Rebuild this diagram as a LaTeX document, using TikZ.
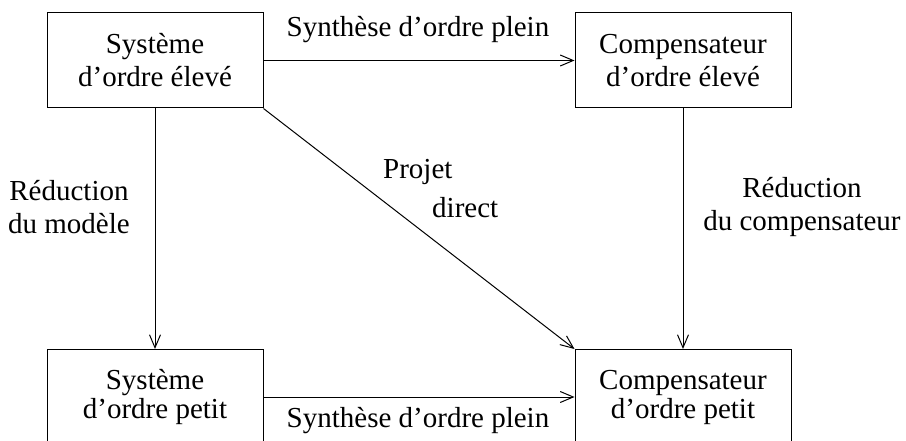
\documentclass[tikz,border=0pt]{standalone}
\usepackage{fontspec}
\setmainfont{Liberation Serif}
\usetikzlibrary{arrows.meta}
\begin{document}
\begin{tikzpicture}[x=1pt,y=-1pt,
  every node/.style={font=\fontsize{29}{33}\selectfont, inner sep=0pt},
  blockbox/.style={draw, line width=1pt, minimum width=216pt, minimum height=95pt, align=center},
  lbl/.style={align=center},
  conn/.style={line width=1pt, -{Straight Barb[length=13pt,width=11pt,line width=1pt]}}]
\useasboundingbox (0,0) rectangle (906,441);
\node[blockbox] (tl) at (155,60.5) {Système\\d’ordre élevé};
\node[blockbox] (tr) at (683,60.5) {Compensateur\\ d’ordre élevé};
\node[blockbox] (bl) at (155,397) {Système\\[-4pt]d’ordre petit};
\node[blockbox] (br) at (683,397) {Compensateur\\[-4pt]d’ordre petit};
\draw[conn] (tl.east) -- (tr.west);
\draw[conn] (bl.east) -- (br.west);
\draw[conn] (tl.south) -- (bl.north);
\draw[conn] (tr.south) -- (br.north);
\draw[conn] (tl.south east) -- (br.north west);
\node[lbl] (ltop) at (418,30) {Synthèse d’ordre plein};
\node[lbl] (lbot) at (418,421) {Synthèse d’ordre plein};
\node[lbl] (lleft) at (69,207) {Réduction\\du modèle};
\node[lbl] (lright) at (802,207) {Réduction\\du compensateur};
\node[anchor=west] (lproj) at (383,172) {Projet};
\node[anchor=west] (ldir) at (432,208) {direct};
\end{tikzpicture}
\end{document}
